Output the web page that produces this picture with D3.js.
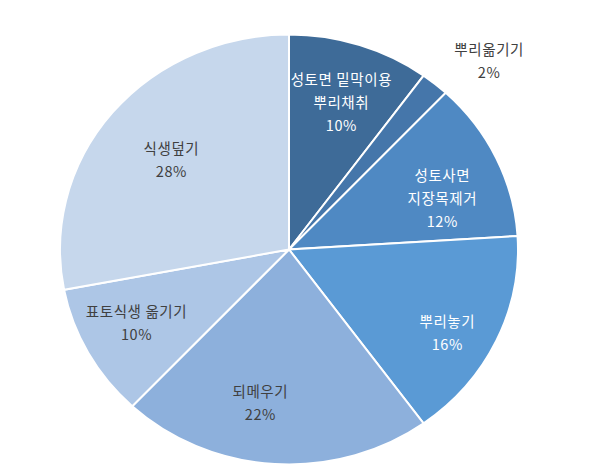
<!DOCTYPE html>
<html>
<head>
<meta charset="utf-8">
<script src="https://cdn.jsdelivr.net/npm/d3@7"></script>
<style>
  body { margin: 0; background: #fff; }
  svg text { font-family: "Noto Sans CJK KR", "Noto Sans", sans-serif; font-size: 14.5px; letter-spacing: 0.6px; }
</style>
</head>
<body>
<div id="chart"></div>
<script>
// slices, clockwise from 12 o'clock
const categories = [
  ['성토면 밑막이용', '뿌리채취'],
  ['뿌리옮기기'],
  ['성토사면', '지장목제거'],
  ['뿌리놓기'],
  ['되메우기'],
  ['표토식생 옮기기'],
  ['식생덮기']
]
const values = [10, 2, 12, 16, 22, 10, 28]
const colors = ['#3e6b98', '#4576aa', '#4f89c3', '#5a9ad5', '#8db0dc', '#adc6e6', '#c6d7ec']
const textColors = ['#fff', '#404040', '#fff', '#fff', '#404040', '#404040', '#404040']

const width = 607
const height = 473
const chart = {cx: 289, cy: 249.5, rx: 229, ry: 215, lineH: 23}
// excel "best fit" doesn't sit exactly on the centroid, small nudges per label
const labelNudge = [[0, 5], [25, 11], [0, 17], [5, 16], [-18, -5], [-4, -3], [13, 12]]

const svg = d3.select('#chart').append('svg')
  .attr('width', width)
  .attr('height', height)

const total = d3.sum(values)
const pie = d3.pie().sort(null).value(d => d)
const arcs = pie(values)

// pie is slightly stretched horizontally, draw on a circle and scale x
const arc = d3.arc().innerRadius(0).outerRadius(chart.ry)

svg.append('g')
  .attr('transform', `translate(${chart.cx},${chart.cy}) scale(${chart.rx / chart.ry},1)`)
  .selectAll('path')
  .data(arcs)
  .enter()
    .append('path')
    .attr('d', arc)
    .attr('fill', (d, i) => colors[i])
    .attr('stroke', '#fff')
    .attr('stroke-width', 2)
    .attr('vector-effect', 'non-scaling-stroke')

const labelPos = (d, i) => {
  const small = d.value / total < 0.05
  const k = small ? 1.2 : 0.74
  const a = (d.startAngle + d.endAngle) / 2
  return [
    chart.cx + Math.sin(a) * chart.rx * k + labelNudge[i][0],
    chart.cy - Math.cos(a) * chart.ry * k + labelNudge[i][1]
  ]
}

const labels = svg.append('g')
  .selectAll('text')
  .data(arcs)
  .enter()
    .append('text')
    .attr('text-anchor', 'middle')
    .attr('fill', (d, i) => textColors[i])
    .attr('transform', (d, i) => `translate(${labelPos(d, i)})`)

labels.each(function(d, i) {
  const lines = categories[i].concat([Math.round(d.value / total * 100) + '%'])
  const y0 = -(lines.length - 1) * chart.lineH / 2 + 5
  d3.select(this).selectAll('tspan')
    .data(lines)
    .enter()
      .append('tspan')
      .attr('x', 0)
      .attr('y', (t, j) => y0 + j * chart.lineH)
      .text(t => t)
})
</script>
</body>
</html>
